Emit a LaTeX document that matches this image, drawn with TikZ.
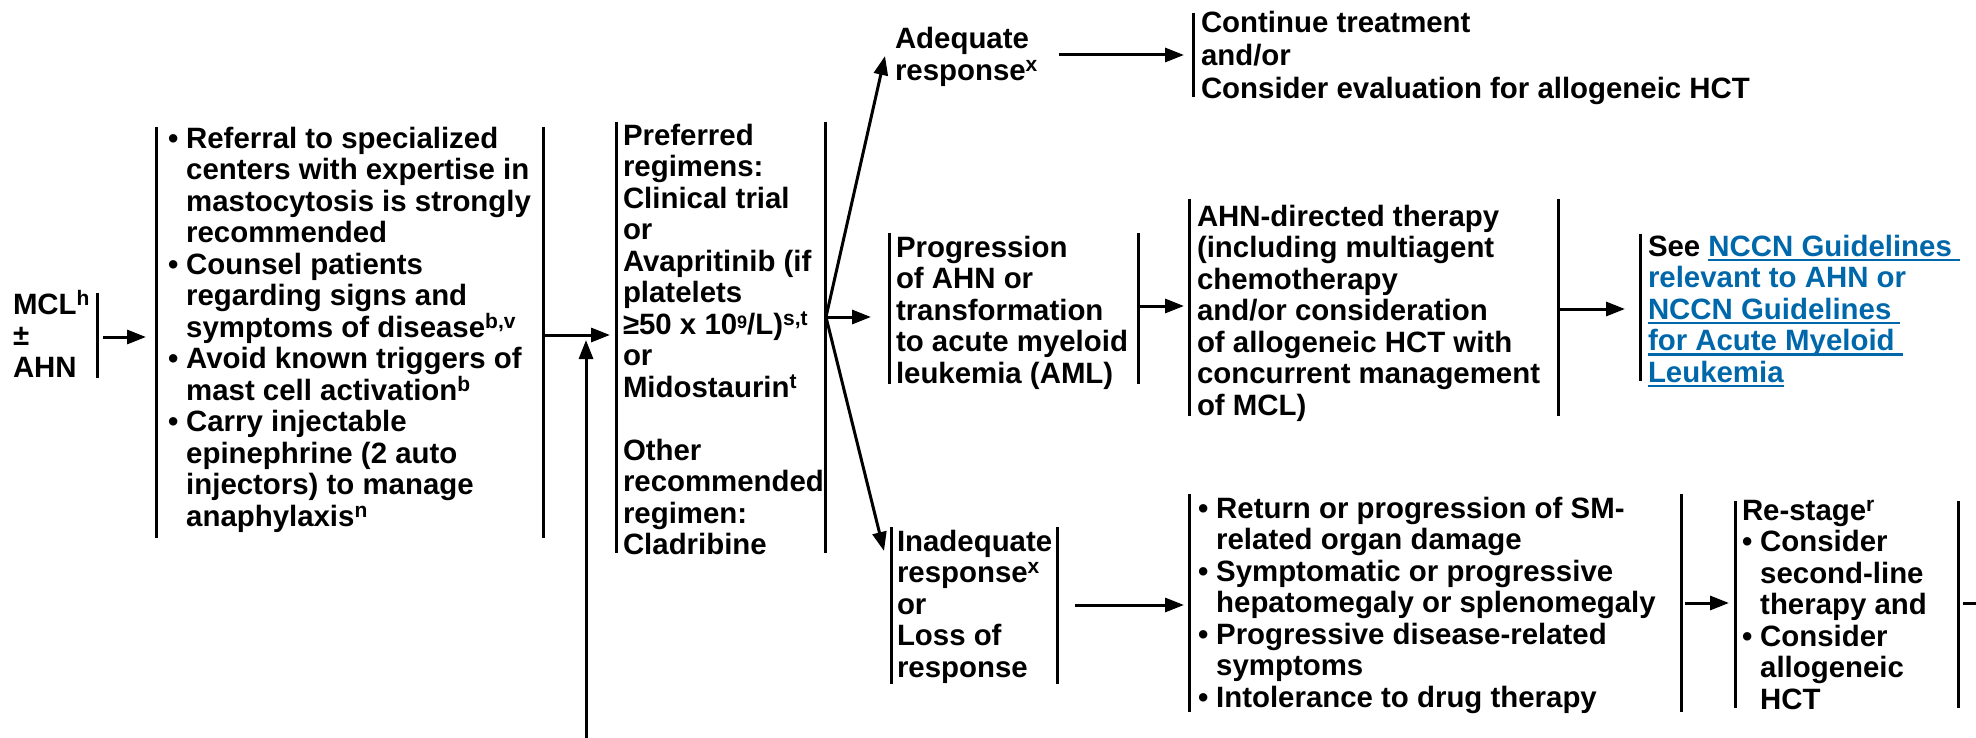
\documentclass[tikz,border=0pt]{standalone}
\usepackage{fontspec}
\setmainfont{Liberation Sans}
\usetikzlibrary{arrows.meta}
\definecolor{nccnblue}{RGB}{0,104,170}
\newcommand\supx[1]{\raisebox{9pt}{\fontsize{21}{21}\selectfont #1}}
\newcommand\supnine{\raisebox{6pt}{\fontsize{18}{18}\selectfont 9}}
\newcommand\fst{\rule{0pt}{27pt}}
\newcommand\bul{\makebox[18.2pt][l]{•}}
\newcommand\ind{\hspace*{18.2pt}}
\newcommand\lnk[1]{\setbox0\hbox{\color{nccnblue}#1}\rlap{\color{nccnblue}\rule[-5pt]{\wd0}{2.2pt}}\box0}
\tikzset{
  bar/.style={line width=3pt},
  arr/.style={line width=3pt,-{Triangle[length=19pt,width=14pt]}},
  fr/.style 2 args={anchor=north west, inner sep=0pt, outer sep=0pt, minimum width=#1, minimum height=#2},
  txt/.style={anchor=north west, inner sep=0pt, outer sep=0pt, align=left, font=\fontsize{29.4}{31.5}\selectfont\bfseries}
}
\begin{document}
\begin{tikzpicture}[x=1pt,y=-1pt]
\useasboundingbox (0,0) rectangle (1976,738);
% frames
\node[fr={84pt}{85pt}] (F1) at (13,293) {};
\node[fr={387pt}{411pt}] (F2) at (156,127) {};
\node[fr={209pt}{431pt}] (F3) at (616,122) {};
\node[fr={10pt}{84pt}] (F5) at (1193,13) {};
\node[fr={249pt}{151pt}] (F6) at (889,233) {};
\node[fr={369pt}{217pt}] (F7) at (1189,199) {};
\node[fr={10pt}{147pt}] (F8) at (1640,234) {};
\node[fr={166pt}{157pt}] (F9) at (891,527) {};
\node[fr={492pt}{218pt}] (F10) at (1189,494) {};
\node[fr={223pt}{207pt}] (F11) at (1735,501) {};
% bars
\draw[bar] (F1.north east) -- (F1.south east);
\foreach \n in {F2,F3,F6,F7,F9,F10,F11} {
  \draw[bar] (\n.north west) -- (\n.south west) (\n.north east) -- (\n.south east);
}
\draw[bar] (F5.north west) -- (F5.south west);
\draw[bar] (F8.north west) -- (F8.south west);
% texts
\node[txt] (T1) at (13,287) {\fst MCL\supx{h}\\±\\AHN};
\node[txt] (T2) at (168,121) {\fst\bul Referral to specialized\\
\ind centers with expertise in\\
\ind mastocytosis is strongly\\
\ind recommended\\
\bul Counsel patients\\
\ind regarding signs and\\
\ind symptoms of disease\supx{b,v}\\
\bul Avoid known triggers of\\
\ind mast cell activation\supx{b}\\
\bul Carry injectable\\
\ind epinephrine (2 auto\\
\ind injectors) to manage\\
\ind anaphylaxis\supx{n}};
\node[txt] (T3) at (623,118) {\fst Preferred\\
regimens:\\
Clinical trial\\
or\\
Avapritinib (if\\
platelets\\
≥50 x 10\supnine/L)\supx{s,t}\\
or\\
Midostaurin\supx{t}\\[31.5pt]
Other\\
recommended\\
regimen:\\
Cladribine};
\node[txt] (T4) at (895,22) {\fst Adequate\\response\supx{x}};
\node[txt, font=\fontsize{29.4}{33}\selectfont\bfseries] (T5) at (1201,6) {\fst Continue treatment\\and/or\\Consider evaluation for allogeneic HCT};
\node[txt] (T6) at (896,230) {\fst Progression\\of AHN or\\transformation\\to acute myeloid\\leukemia (AML)};
\node[txt] (T7) at (1197,199) {\fst AHN-directed therapy\\(including multiagent\\chemotherapy\\and/or consideration\\of allogeneic HCT with\\concurrent management\\of MCL)};
\node[txt] (T8) at (1648,229) {\fst See \lnk{NCCN Guidelines\ }\\relevant to AHN or\\\lnk{NCCN Guidelines\ }\\\lnk{for Acute Myeloid\ }\\\lnk{Leukemia}};
\node[txt] (T9) at (897,524) {\fst Inadequate\\response\supx{x}\\or\\Loss of\\response};
\node[txt] (T10) at (1198,491) {\fst\bul Return or progression of SM-\\
\ind related organ damage\\
\bul Symptomatic or progressive\\
\ind hepatomegaly or splenomegaly\\
\bul Progressive disease-related\\
\ind symptoms\\
\bul Intolerance to drug therapy};
\node[txt] (T11) at (1742,493) {\fst Re-stage\supx{r}\\
\bul Consider\\
\ind second-line\\
\ind therapy and\\
\bul Consider\\
\ind allogeneic\\
\ind HCT};
% connectors
\draw[arr, shorten <=6pt, shorten >=10pt] (F1.east |- 0,337) -- (F2.west |- 0,337);
\draw[arr, shorten >=6pt] (F2.east |- 0,335) -- (F3.west |- 0,335);
\coordinate (upS) at (586,738);
\coordinate (upT) at (586,340);
\draw[arr] (upS) -- (upT);
\coordinate (fan) at (826,317);
\coordinate (adqTip) at (885,56);
\coordinate (inaTip) at (884,551);
\draw[arr] (fan) -- (adqTip);
\draw[arr, shorten >=18pt] (fan) -- (F6.west |- fan);
\draw[arr] (fan) -- (inaTip);
\draw[arr, shorten <=22pt, shorten >=9pt] (T4.east |- 0,55) -- (F5.west |- 0,55);
\draw[arr, shorten >=5pt] (F6.east |- 0,306) -- (F7.west |- 0,306);
\draw[arr, shorten >=15pt] (F7.east |- 0,309) -- (F8.west |- 0,309);
\draw[arr, shorten <=18pt, shorten >=5pt] (F9.east |- 0,605) -- (F10.west |- 0,605);
\draw[arr, shorten <=4pt, shorten >=6pt] (F10.east |- 0,603) -- (F11.west |- 0,603);
\coordinate (outR) at (1976,603);
\draw[bar, shorten <=5pt] (F11.east |- 0,603) -- (outR);
\end{tikzpicture}
\end{document}
